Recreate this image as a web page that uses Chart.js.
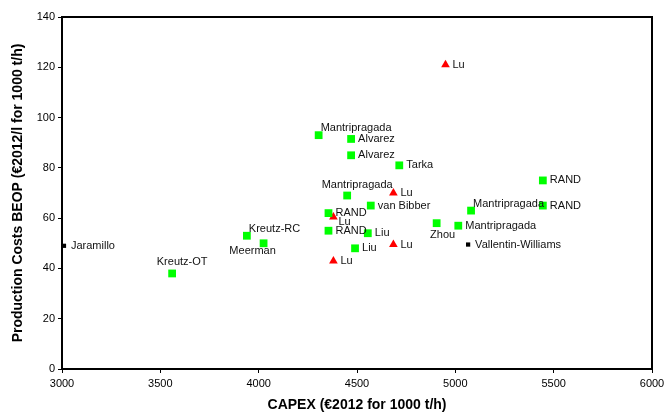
<!DOCTYPE html>
<html>
<head>
  <title>CAPEX vs production costs</title>
  <script src="https://cdn.jsdelivr.net/npm/chart.js"></script>
  <style>
    body { margin: 0; background: #fff; }
    #wrap { width: 665px; height: 416px; }
  </style>
</head>
<body>
  <div id="wrap"><canvas id="costChart" width="665" height="416"></canvas></div>

  <script>
    // studies shown as green squares
    var greenNames = ['Kreutz-OT', 'Kreutz-RC', 'Meerman', 'Mantripragada', 'Alvarez', 'Alvarez', 'Tarka',
      'Mantripragada', 'van Bibber', 'RAND', 'RAND', 'Liu', 'Liu', 'Zhou', 'Mantripragada', 'Mantripragada',
      'RAND', 'RAND'];
    var greenCapex = [3560, 3940, 4025, 4305, 4470, 4470, 4715, 4450, 4570, 4355, 4355, 4555, 4490, 4905, 5015, 5080, 5445, 5445];
    var greenCost = [38, 53, 50, 93, 91.5, 85, 81, 69, 65, 62, 55, 54, 48, 58, 57, 63, 75, 65];

    // Lu, red triangles
    var luNames = ['Lu', 'Lu', 'Lu', 'Lu', 'Lu'];
    var luCapex = [4950, 4685, 4380, 4685, 4380];
    var luCost = [121, 70, 60.5, 49.5, 43];

    // small black markers
    var blackNames = ['Jaramillo', 'Vallentin-Williams'];
    var blackCapex = [3010, 5065];
    var blackCost = [49, 49.5];

    var xTicks = [3000, 3500, 4000, 4500, 5000, 5500, 6000];
    var yTicks = [0, 20, 40, 60, 80, 100, 120, 140];

    // where each label sits relative to its marker
    var greenAnchor = ['up', 'upRight', 'downLeft', 'upRight', 'right', 'right', 'right', 'up', 'right', 'right',
      'right', 'right', 'right', 'down', 'right', 'upRight', 'right', 'right'];
    var luAnchor = ['right', 'right', 'rightDown', 'right', 'right'];
    var blackAnchor = ['right', 'right'];

    var anchors = {
      right: { align: 'left', dx: 7, dy: 0 },
      rightDown: { align: 'left', dx: 5, dy: 5 },
      upRight: { align: 'left', dx: 2, dy: -7 },
      up: { align: 'center', dx: 10, dy: -11 },
      down: { align: 'center', dx: 6, dy: 12 },
      downLeft: { align: 'center', dx: -11, dy: 8 }
    };

    function toPoints(xs, ys) {
      var pts = [];
      for (var i = 0; i < xs.length; i++) pts.push({ x: xs[i], y: ys[i] });
      return pts;
    }

    var labelPlugin = {
      id: 'pointLabels',
      afterDatasetsDraw: function(chart) {
        var ctx = chart.ctx;
        var a = chart.chartArea;
        ctx.save();
        ctx.strokeStyle = '#000';
        ctx.lineWidth = 2;
        ctx.strokeRect(a.left, a.top, a.right - a.left, a.bottom - a.top);
        ctx.font = '11px "Liberation Sans", Arial, sans-serif';
        ctx.fillStyle = '#111';
        ctx.textBaseline = 'middle';
        chart.data.datasets.forEach(function(ds, di) {
          var meta = chart.getDatasetMeta(di);
          meta.data.forEach(function(el, i) {
            var an = anchors[ds.anchors[i]];
            ctx.textAlign = an.align;
            ctx.fillText(ds.names[i], el.x + an.dx, el.y + an.dy);
          });
        });
        ctx.restore();
      }
    };

    var ctx = document.getElementById('costChart').getContext('2d');
    var chart = new Chart(ctx, {
      type: 'scatter',
      data: {
        datasets: [{
          label: 'studies',
          data: toPoints(greenCapex, greenCost),
          names: greenNames,
          anchors: greenAnchor,
          pointStyle: 'rect',
          pointRadius: 5.5,
          backgroundColor: '#00ff00',
          borderWidth: 0
        }, {
          label: 'Lu',
          data: toPoints(luCapex, luCost),
          names: luNames,
          anchors: luAnchor,
          pointStyle: 'triangle',
          pointRadius: 5,
          backgroundColor: '#ff0000',
          borderWidth: 0
        }, {
          label: 'other',
          data: toPoints(blackCapex, blackCost),
          names: blackNames,
          anchors: blackAnchor,
          pointStyle: 'rect',
          pointRadius: 3,
          backgroundColor: '#000',
          borderWidth: 0
        }]
      },
      options: {
        responsive: false,
        animation: false,
        layout: { padding: { top: 17, left: 10, right: 0, bottom: 2 } },
        plugins: {
          legend: { display: false },
          tooltip: { enabled: false }
        },
        scales: {
          x: {
            type: 'linear',
            min: xTicks[0],
            max: xTicks[xTicks.length - 1],
            afterBuildTicks: function(s) { s.ticks = xTicks.map(function(v) { return { value: v }; }); },
            afterFit: function(s) { s.height = 45; s.paddingRight = 13; },
            grid: { drawOnChartArea: false, color: '#000', tickLength: 4 },
            border: { color: '#000', width: 2 },
            ticks: {
              color: '#000', padding: 4, maxRotation: 0,
              font: { family: 'Liberation Sans', size: 11 },
              callback: function(v) { return String(v); }
            },
            title: {
              display: true,
              text: 'CAPEX (€2012 for 1000 t/h)',
              color: '#000',
              padding: { top: 9, bottom: 0 },
              font: { family: 'Liberation Sans', size: 14, weight: 'bold' }
            }
          },
          y: {
            type: 'linear',
            min: yTicks[0],
            max: yTicks[yTicks.length - 1],
            afterBuildTicks: function(s) { s.ticks = yTicks.map(function(v) { return { value: v }; }); },
            afterFit: function(s) { s.width = 52; },
            grid: { drawOnChartArea: false, color: '#000', tickLength: 4 },
            border: { color: '#000', width: 2 },
            ticks: {
              color: '#000', padding: 3,
              font: { family: 'Liberation Sans', size: 11 },
              callback: function(v) { return String(v); }
            },
            title: {
              display: true,
              text: 'Production Costs BEOP (€2012/l for 1000 t/h)',
              color: '#000',
              padding: { top: 0, bottom: 4 },
              font: { family: 'Liberation Sans', size: 14, weight: 'bold' }
            }
          }
        }
      },
      plugins: [labelPlugin]
    });
  </script>
</body>
</html>
